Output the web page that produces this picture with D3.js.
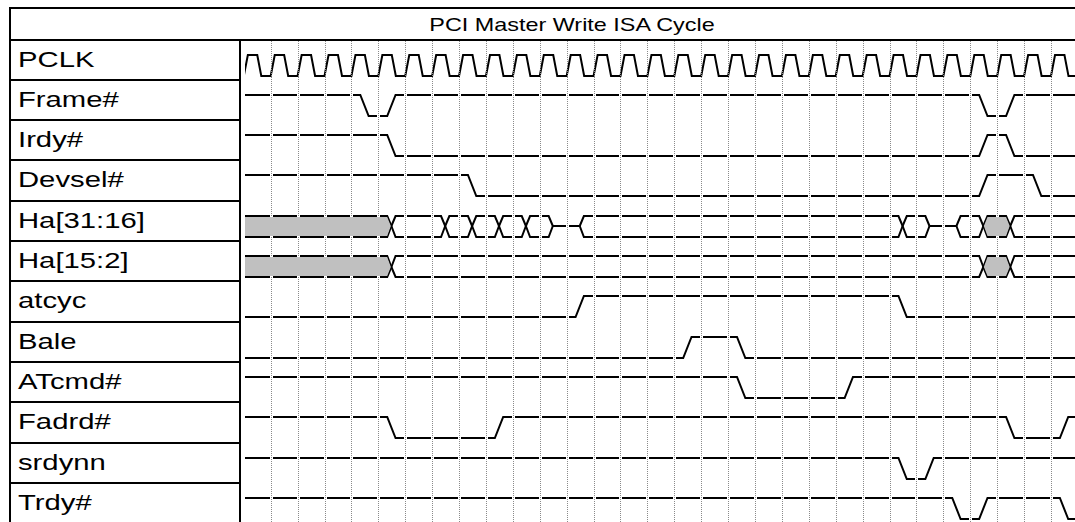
<!DOCTYPE html>
<html>
<head>
<meta charset="utf-8">
<script src="https://cdn.jsdelivr.net/npm/d3@7"></script>
<style>
  body { margin: 0; background: #fff; }
  svg { display: block; }
  text { font-family: "Liberation Sans", Arial, sans-serif; fill: #000; }
</style>
</head>
<body>
<div id="timing"></div>
<script>
// signal rows, top to bottom
const signalNames = ["PCLK", "Frame#", "Irdy#", "Devsel#", "Ha[31:16]", "Ha[15:2]",
  "atcyc", "Bale", "ATcmd#", "Fadrd#", "srdynn", "Trdy#"];
const chartTitle = "PCI Master Write ISA Cycle";

// clock: number of cycles shown, grid line times
const clockCycles = 31;
const gridTimes = d3.range(1, 31);

// single bit signals: start level (1 = high) and edge times in clock periods
const frameStart = 1, frameEdges = [4.33, 5.33, 27.33, 28.33];
const irdyStart = 1, irdyEdges = [5.33, 27.33, 28.33];
const devselStart = 1, devselEdges = [8.33, 27.33, 29.33];
const atcycStart = 0, atcycEdges = [12.33, 24.33];
const baleStart = 0, baleEdges = [16.33, 18.33];
const atcmdStart = 1, atcmdEdges = [18.33, 22.33];
const fadrdStart = 1, fadrdEdges = [5.33, 9.33, 28.33, 30.33];
const srdynnStart = 1, srdynnEdges = [24.33, 25.33];
const trdyStart = 1, trdyEdges = [26.33, 27.33, 30.33];

// buses: segment start times and states (x = unknown, v = valid, z = tri-state)
const haHighTimes = [0, 5.33, 7.33, 8.33, 9.33, 10.33, 11.33, 12.33, 24.33, 25.33, 26.33, 27.33, 28.33];
const haHighStates = ["x", "v", "v", "v", "v", "v", "z", "v", "v", "z", "v", "x", "v"];
const haLowTimes = [0, 5.33, 27.33, 28.33];
const haLowStates = ["x", "v", "x", "v"];

document.addEventListener("DOMContentLoaded", function() {
  const W = 1075, H = 522;
  const endT = 31.5;
  const edge = 0.31, half = 0.155;

  const svg = d3.select("#timing")
    .append("svg")
    .attr("width", W)
    .attr("height", H);

  const x = d3.scaleLinear().domain([0, 30]).range([243.8, 1051]);
  const rowY = d3.scaleLinear().domain([0, 12]).range([39.5, 523.1]);
  const rowLine = i => Math.round(rowY(i));
  const hi = i => Math.round(rowY(i) + 15);
  const lo = i => Math.round(rowY(i) + 36);
  const mid = i => Math.round(rowY(i) + 25.5);

  const line = d3.line().x(d => x(d[0])).y(d => d[1]);

  svg.append("clipPath").attr("id", "wave-clip")
    .append("rect").attr("x", 245).attr("y", 41).attr("width", W - 245).attr("height", H - 41);

  const waves = svg.append("g").attr("clip-path", "url(#wave-clip)");

  // clock
  const clkPts = [];
  for (let k = 0; k < clockCycles; k++) {
    clkPts.push([k, lo(0)], [k + 0.15, hi(0)], [k + 0.5, hi(0)], [k + 0.65, lo(0)]);
  }
  clkPts.push([clockCycles, lo(0)]);
  waves.append("path").attr("d", line(clkPts))
    .attr("fill", "none").attr("stroke", "#000").attr("stroke-width", 2);

  // single bit signals
  const digital = [
    { row: 1, start: frameStart, edges: frameEdges },
    { row: 2, start: irdyStart, edges: irdyEdges },
    { row: 3, start: devselStart, edges: devselEdges },
    { row: 6, start: atcycStart, edges: atcycEdges },
    { row: 7, start: baleStart, edges: baleEdges },
    { row: 8, start: atcmdStart, edges: atcmdEdges },
    { row: 9, start: fadrdStart, edges: fadrdEdges },
    { row: 10, start: srdynnStart, edges: srdynnEdges },
    { row: 11, start: trdyStart, edges: trdyEdges }
  ];
  digital.forEach(function(s) {
    const lvl = v => v ? hi(s.row) : lo(s.row);
    let cur = s.start;
    const pts = [[0, lvl(cur)]];
    s.edges.forEach(function(e) {
      pts.push([e, lvl(cur)]);
      cur = 1 - cur;
      pts.push([e + edge, lvl(cur)]);
    });
    pts.push([endT, lvl(cur)]);
    waves.append("path").attr("d", line(pts))
      .attr("fill", "none").attr("stroke", "#000").attr("stroke-width", 2);
  });

  // buses
  const buses = [
    { row: 4, times: haHighTimes, states: haHighStates },
    { row: 5, times: haLowTimes, states: haLowStates }
  ];
  const grayShapes = [];
  buses.forEach(function(b) {
    const r = b.row;
    b.times.forEach(function(s, j) {
      const e = j + 1 < b.times.length ? b.times[j + 1] : endT;
      const st = b.states[j];
      if (st === "z") {
        waves.append("path").attr("d", line([[s + half, mid(r)], [e + half, mid(r)]]))
          .attr("fill", "none").attr("stroke", "#000").attr("stroke-width", 2);
        return;
      }
      const l0 = s === 0 ? -1 : s + half;
      const l1 = s === 0 ? -1 : s + edge;
      const top = [[l0, s === 0 ? hi(r) : mid(r)], [l1, hi(r)], [e, hi(r)], [e + half, mid(r)]];
      const bot = [[l0, s === 0 ? lo(r) : mid(r)], [l1, lo(r)], [e, lo(r)], [e + half, mid(r)]];
      [top, bot].forEach(function(p) {
        waves.append("path").attr("d", line(p))
          .attr("fill", "none").attr("stroke", "#000").attr("stroke-width", 2);
      });
      if (st === "x") {
        grayShapes.push([[l0 + 0.02, mid(r)], [l1, hi(r) + 1], [e, hi(r) + 1], [e + half - 0.02, mid(r)],
          [e, lo(r) - 1], [l1, lo(r) - 1]]);
      }
    });
  });

  // dotted grid lines, cutting small gaps in the waveforms below the clock
  const gx = d => Math.round(x(d)) + 0.5;
  const grid = svg.append("g");
  grid.selectAll(".gap")
    .data(gridTimes)
    .enter()
    .append("line")
    .attr("class", "gap")
    .attr("x1", gx).attr("x2", gx)
    .attr("y1", rowLine(1)).attr("y2", H)
    .attr("stroke", "#fff").attr("stroke-width", 3);
  grid.selectAll(".dot")
    .data(gridTimes)
    .enter()
    .append("line")
    .attr("class", "dot")
    .attr("x1", gx).attr("x2", gx)
    .attr("y1", 41).attr("y2", H)
    .attr("stroke", "#8a8a8a").attr("stroke-width", 1)
    .attr("stroke-dasharray", "1,1");

  // unknown bus values drawn on top of the grid
  const fills = svg.append("g").attr("clip-path", "url(#wave-clip)");
  fills.selectAll("path")
    .data(grayShapes)
    .enter()
    .append("path")
    .attr("d", d => line(d) + "Z")
    .attr("fill", "#c0c0c0")
    .attr("stroke", "none");

  // frame
  const frame = svg.append("g").attr("stroke", "#000").attr("stroke-width", 2);
  frame.append("line").attr("x1", 10).attr("x2", W).attr("y1", 8).attr("y2", 8);
  frame.append("line").attr("x1", 10).attr("x2", 10).attr("y1", 7).attr("y2", H);
  frame.append("line").attr("x1", 9).attr("x2", W).attr("y1", rowLine(0)).attr("y2", rowLine(0));
  frame.append("line").attr("x1", 240).attr("x2", 240).attr("y1", rowLine(0)).attr("y2", H);
  frame.selectAll(".row-line")
    .data(d3.range(1, signalNames.length))
    .enter()
    .append("line")
    .attr("class", "row-line")
    .attr("x1", 10).attr("x2", 240)
    .attr("y1", rowLine).attr("y2", rowLine);

  // title and labels
  svg.append("text")
    .attr("transform", "translate(572,31) scale(1.3,1)")
    .attr("text-anchor", "middle")
    .style("font-size", "18px")
    .text(chartTitle);

  svg.selectAll(".label")
    .data(signalNames)
    .enter()
    .append("text")
    .attr("class", "label")
    .attr("transform", (d, i) => "translate(18," + (rowY(i) + 27) + ") scale(1.33,1)")
    .style("font-size", "22px")
    .text(d => d);
});
</script>
</body>
</html>
